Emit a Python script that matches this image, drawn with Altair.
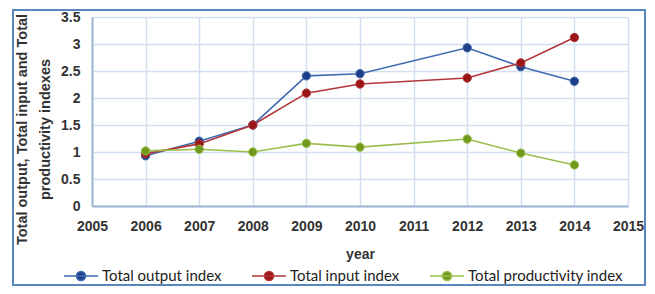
import altair as alt
import pandas as pd

years = [2006, 2007, 2008, 2009, 2010, 2012, 2013, 2014]
output_index = [0.93, 1.20, 1.50, 2.41, 2.45, 2.93, 2.58, 2.31]
input_index = [0.97, 1.15, 1.50, 2.09, 2.26, 2.37, 2.65, 3.12]
productivity_index = [1.02, 1.05, 1.00, 1.16, 1.09, 1.24, 0.98, 0.76]

series_names = ["Total output index", "Total input index", "Total productivity index"]
line_colors = ["#3F6CB0", "#B3373A", "#9DBE4E"]
marker_colors = ["#1F3E8A", "#9A1515", "#6F9A1E"]

x_ticks = list(range(2005, 2016))
y_ticks = [0, 0.5, 1, 1.5, 2, 2.5, 3, 3.5]

rows = []
for name, vals in zip(series_names, [output_index, input_index, productivity_index]):
    for yr, v in zip(years, vals):
        rows.append({"year": yr, "value": v, "series": name})
df = pd.DataFrame(rows)

FONT = "Lato"

x_enc = alt.X("year:Q",
              scale=alt.Scale(domain=[2005, 2015], nice=False, zero=False),
              axis=alt.Axis(values=x_ticks, format="d", title="year",
                            labelFontWeight="bold", labelFontSize=14, labelColor="#333333",
                            labelFlush=False,
                            titleFontSize=14, titleFontWeight="bold", titleColor="#333333",
                            titlePadding=14, labelPadding=13, ticks=False,
                            domainColor="#9DB5D3", domainWidth=2,
                            gridColor="#D3DFEE", gridWidth=1.5))
y_enc = alt.Y("value:Q",
              scale=alt.Scale(domain=[0, 3.5], nice=False),
              axis=alt.Axis(values=y_ticks, format="~g",
                            title=["Total output, Total input and Total", "productivity indexes"],
                            labelFontWeight="bold", labelFontSize=14, labelColor="#333333",
                            labelFlush=False,
                            titleFontSize=14.5, titleFontWeight="bold", titleColor="#333333",
                            titleLineHeight=23, titlePadding=8, labelPadding=12, ticks=False,
                            titleY=112,
                            domainColor="#9DB5D3", domainWidth=2,
                            gridColor="#D3DFEE", gridWidth=1.5))

legend_path = ("M-1,0L1,0M0.27,0A0.27,0.27,0,1,1,-0.27,0A0.27,0.27,0,1,1,0.27,0Z")

stroke_scale = alt.Scale(domain=series_names, range=line_colors)
fill_scale = alt.Scale(domain=series_names, range=marker_colors)

legend = alt.Legend(title=None, orient="none", direction="horizontal",
                    legendX=-29, legendY=241,
                    symbolType=legend_path, symbolSize=1156, symbolStrokeWidth=1.5,
                    labelFont=FONT, labelFontSize=15, labelColor="#222222",
                    labelOffset=3, columnPadding=27)

lines = alt.Chart(df).mark_line(strokeWidth=1.6).encode(
    x=x_enc, y=y_enc,
    stroke=alt.Stroke("series:N", scale=stroke_scale, sort=series_names, legend=legend),
)
points = alt.Chart(df).mark_point(filled=True, size=70, opacity=1, strokeWidth=1).encode(
    x=x_enc, y=y_enc,
    fill=alt.Fill("series:N", scale=fill_scale, sort=series_names, legend=legend),
    stroke=alt.Stroke("series:N", scale=stroke_scale, sort=series_names, legend=legend),
)
border = alt.Chart(pd.DataFrame({"a": [0]})).mark_rect(
    fill=None, stroke="#5A86C0", strokeWidth=2
).encode(x=alt.value(-79), x2=alt.value(553), y=alt.value(-7), y2=alt.value(268))

chart = alt.layer(lines, points, border).properties(
    width=536, height=189,
    autosize=alt.AutoSizeParams(type="none"),
    padding={"left": 84, "top": 9, "right": 19, "bottom": 80},
).configure_view(stroke="#D3DFEE", strokeWidth=1.5).configure_axis(
    labelFont=FONT, titleFont=FONT
).configure(background="white")

chart.save("out.html", embed_options={"renderer": "svg", "actions": False})
